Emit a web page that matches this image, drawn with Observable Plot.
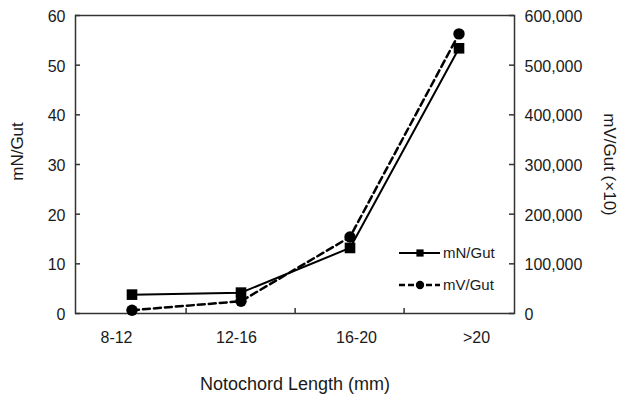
<!DOCTYPE html>
<html><head><meta charset="utf-8">
<script src="https://cdn.jsdelivr.net/npm/d3@7"></script>
<script src="https://cdn.jsdelivr.net/npm/@observablehq/plot@0.6"></script>
<style>
body{margin:0;background:#fff;}
#chart{position:relative;width:622px;height:395px;font-family:"Liberation Sans",Arial,sans-serif;}
#chart svg{position:absolute;left:0;top:0;overflow:visible;}
</style></head><body><div id="chart"></div>
<script>
// ---- data ----
const categories = ["8-12", "12-16", "16-20", ">20"];
const mN = [3.8, 4.2, 13.2, 53.4];
const mV = [6600, 24700, 154000, 563000];
const leftTicks = [0, 10, 20, 30, 40, 50, 60];
const rightTicks = [0, 100000, 200000, 300000, 400000, 500000, 600000];
const seriesNames = ["mN/Gut", "mV/Gut"];
const xTitle = "Notochord Length (mm)";
const yLeftTitle = "mN/Gut";
const yRightTitle = "mV/Gut (\u00d710)";
const ratio = 10000; // 600,000 on the right axis ↔ 60 on the left axis

// ---- layout ----
const W = 622, H = 395, mL = 75, mR = 108, mT = 15, mB = 82;
const innerW = W - mL - mR, innerH = H - mT - mB;
const bw = innerW / categories.length;
const font = '"Liberation Sans", Arial, sans-serif';
const ink = "#1a1a1a";

const rows = categories.map((c, i) => ({cat: c, mN: mN[i], mV: mV[i] / ratio}));

const main = Plot.plot({
  width: W, height: H, marginLeft: mL, marginRight: mR, marginTop: mT, marginBottom: mB,
  style: {fontFamily: font, fontSize: "16px", color: ink, background: "transparent"},
  x: {type: "band", domain: categories, padding: 0, axis: null},
  y: {domain: [0, 60], axis: null},
  marks: [
    Plot.tickY(leftTicks, {y: d => d, insetRight: innerW - 5, stroke: "#333", strokeWidth: 1.5}),
    Plot.tickY(leftTicks, {y: d => d, insetLeft: innerW - 5, stroke: "#333", strokeWidth: 1.5}),
    Plot.tickX(categories.slice(1), {x: d => d, dx: -bw / 2, insetTop: innerH - 5, stroke: "#333", strokeWidth: 1.5}),
    Plot.frame({stroke: "#333", strokeWidth: 1.5}),
    Plot.axisY(leftTicks, {anchor: "left", tickSize: 0, tickPadding: 10, label: null, fontSize: 16, dy: 1.5, fill: ink}),
    Plot.axisY(rightTicks.map(d => d / ratio), {anchor: "right", tickSize: 0, tickPadding: 10, label: null, fontSize: 16, dy: 1.5, fill: ink,
      tickFormat: d => d3.format(",")(Math.round(d * ratio))}),
    Plot.line(rows, {x: "cat", y: "mN", stroke: "#000", strokeWidth: 2}),
    Plot.dot(rows, {x: "cat", y: "mN", symbol: "square", r: 6, fill: "#000"}),
    Plot.line(rows, {x: "cat", y: "mV", stroke: "#000", strokeWidth: 2.5, strokeDasharray: "7,4"}),
    Plot.dot(rows, {x: "cat", y: "mV", symbol: "circle", r: 5.7, fill: "#000"}),
    Plot.text([yLeftTitle], {text: d => d, frameAnchor: "left", textAnchor: "middle", dx: -57.5, dy: -13, rotate: -90, fontSize: 17, fill: ink}),
    Plot.text([yRightTitle], {text: d => d, frameAnchor: "right", textAnchor: "middle", dx: 95, rotate: 90, fontSize: 17, fill: ink}),
    Plot.text([xTitle], {text: d => d, frameAnchor: "bottom", dy: 76, lineAnchor: "bottom", fontSize: 18, fill: ink})
  ]
});

// x tick labels (slightly wider spacing than the plotted points, as in the reference)
const labelPlot = Plot.plot({
  width: W, height: H, marginLeft: 55, marginRight: 86, marginTop: mT, marginBottom: mB,
  style: {fontFamily: font, fontSize: "16px", color: ink, background: "transparent"},
  x: {type: "band", domain: categories, padding: 0},
  marks: [
    Plot.axisX(categories, {anchor: "bottom", tickSize: 0, tickPadding: 18, label: null, fontSize: 16, fill: ink})
  ]
});

const chart = document.getElementById("chart");
chart.appendChild(main);
chart.appendChild(labelPlot);

// legend
const leg = d3.select(chart).append("svg")
  .attr("width", 130).attr("height", 60)
  .style("left", "395px").style("top", "240px");
const legItems = [
  {name: seriesNames[0], dash: null, sym: d3.symbolSquare, size: 52, y: 13},
  {name: seriesNames[1], dash: "6,3", sym: d3.symbolCircle, size: 55, y: 45}
];
legItems.forEach(it => {
  const g = leg.append("g").attr("transform", `translate(0,${it.y})`);
  g.append("line").attr("x1", 4).attr("x2", 45).attr("y1", 0).attr("y2", 0)
    .attr("stroke", "#000").attr("stroke-width", it.dash ? 2.5 : 2)
    .attr("stroke-dasharray", it.dash);
  g.append("path").attr("d", d3.symbol(it.sym, it.size)()).attr("transform", "translate(25,0)").attr("fill", "#000");
  g.append("text").attr("x", 48).attr("y", 0).attr("dy", "0.35em")
    .attr("font-family", font).attr("font-size", 15).attr("fill", ink).text(it.name);
});
</script>
</body></html>
